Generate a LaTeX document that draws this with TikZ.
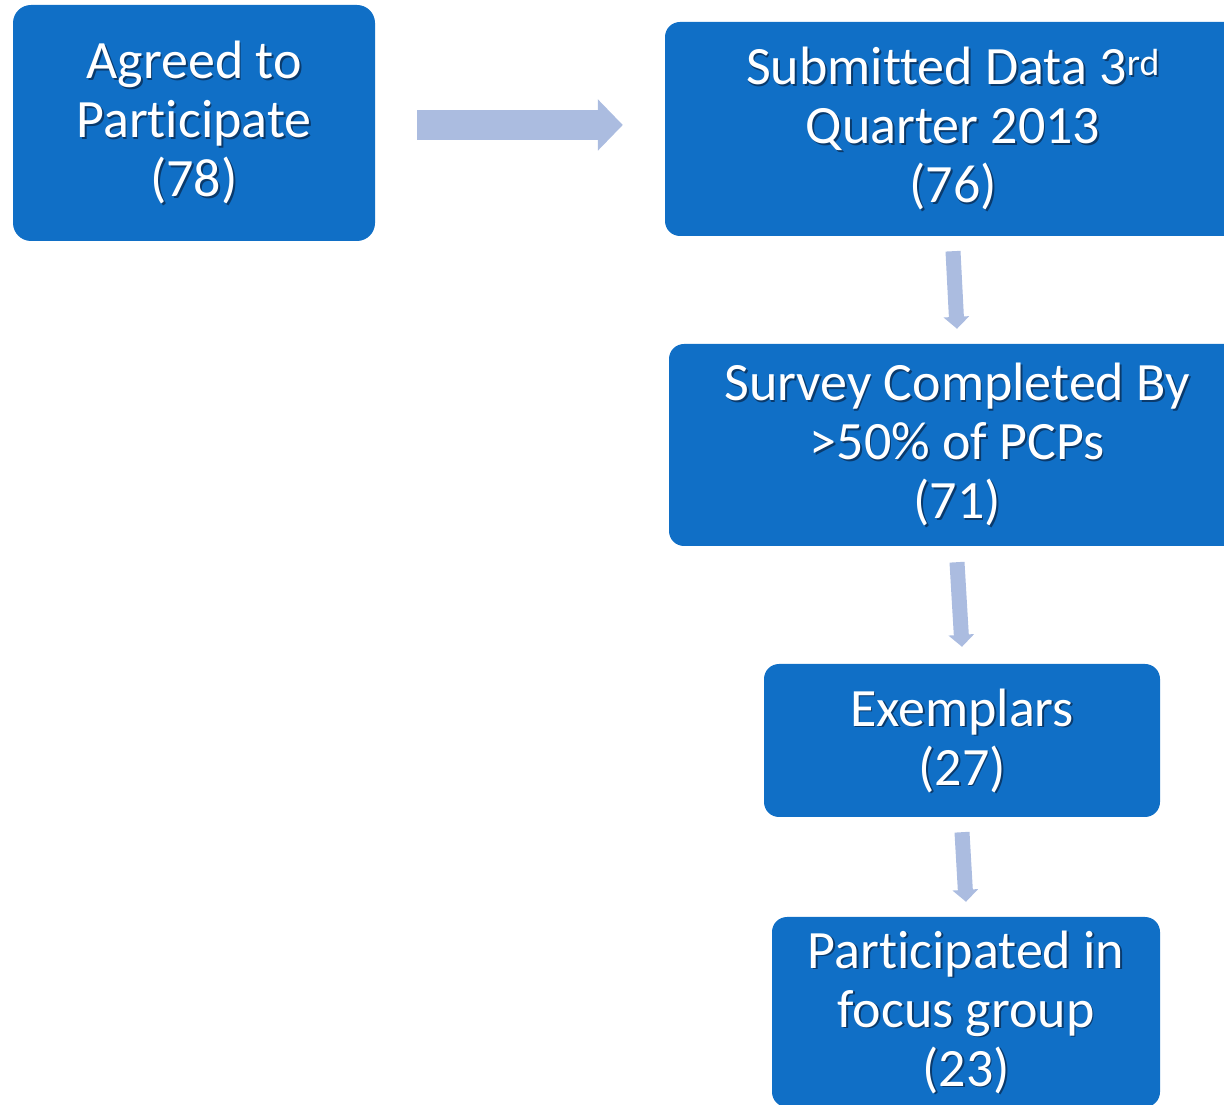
\documentclass[tikz,border=0pt]{standalone}
\usepackage{fontspec}
\setmainfont{Carlito}[Ligatures=NoCommon]
\usetikzlibrary{arrows.meta}
\definecolor{boxblue}{RGB}{16,111,198}
\definecolor{arrowc}{RGB}{171,188,224}
\definecolor{shadowc}{RGB}{10,58,108}
\newcommand\shd[1]{\leavevmode\rlap{\kern1.8pt\raisebox{-1.8pt}[0pt][0pt]{\textcolor{shadowc}{#1}}}#1}
\tikzset{
  flowbox/.style={fill=boxblue, draw=none, rounded corners=#1, text=white,
    align=center, inner sep=0pt, font=\fontsize{54}{59}\selectfont},
  flowbox/.default=15pt,
  bigarrow/.style={draw=arrowc, line width=30pt,
    -{Triangle[length=25pt 0, width=50pt 0]}},
  downarrow/.style={draw=arrowc, line width=15pt,
    -{Triangle[length=12pt 0, width=25pt 0]}}
}
\begin{document}
\begin{tikzpicture}[x=1pt,y=1pt]
\useasboundingbox (0,0) rectangle (1224,1104);
\clip (0,0) rectangle (1224,1104);
\node[flowbox=18pt, minimum width=362pt, minimum height=236pt] (a) at (194,981)
  {\shd{Agreed to}\\\shd{Participate}\\\shd{(78)}};
\node[flowbox, minimum width=576pt, minimum height=214pt] (b) at (953,975)
  {\shd{Submitted Data 3\textsuperscript{rd}}\\\shd{Quarter 2013}\\\shd{(76)}};
\node[flowbox, minimum width=576pt, minimum height=202pt] (c) at (957,659)
  {\shd{Survey Completed By}\\\shd{>50\% of PCPs}\\\shd{(71)}};
\node[flowbox, minimum width=396pt, minimum height=153pt] (d) at (962,363.5)
  {\shd{Exemplars}\\\shd{(27)}};
\node[flowbox, minimum width=388pt, minimum height=190pt] (e) at (966,92)
  {\shd{Participated in}\\\shd{focus group}\\\shd{(23)}};
\draw[bigarrow] ([xshift=42pt,yshift=-2pt]a.east) -- ([xshift=-42pt,yshift=-2pt]a.east -| b.west);
\draw[downarrow] ([yshift=-15pt]b.south) -- ([yshift=15pt]c.north);
\draw[downarrow] ([yshift=-16pt]c.south) -- ([yshift=17pt]d.north);
\draw[downarrow] ([yshift=-15pt]d.south) -- ([yshift=15pt]e.north);
\end{tikzpicture}
\end{document}
